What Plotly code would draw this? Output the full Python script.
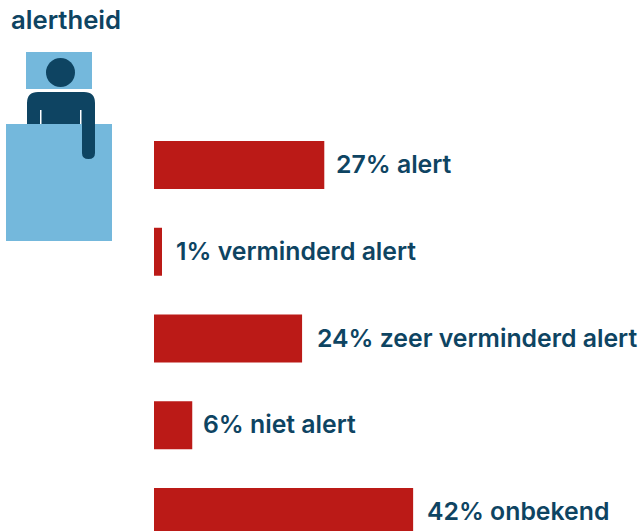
import plotly.graph_objects as go

categories = ["alert", "verminderd alert", "zeer verminderd alert", "niet alert", "onbekend"]
percent_labels = ["27%", "1%", "24%", "6%", "42%"]
bar_lengths = [27.6, 1.3, 24.0, 6.2, 42.0]

W, H = 640, 531
BLUE = "#0e4462"
LIGHT = "#74b8dc"
RED = "#bb1a17"
FONT = "Inter"
PX_PER_UNIT = 6.17
BAR_X0 = 154
ROW0, ROW_STEP = 165, 86.75
LABEL_GAPS = {"alert": 10, "verminderd alert": 12, "zeer verminderd alert": 13,
              "niet alert": 9, "onbekend": 12}

def X(p):
    return p / W

def Y(p):
    return 1 - p / H

fig = go.Figure(go.Bar(
    x=bar_lengths, y=categories, orientation="h",
    marker=dict(color=RED, line=dict(width=0)), hoverinfo="skip",
))

for cat, pct, v in zip(categories, percent_labels, bar_lengths):
    fig.add_annotation(x=v, y=cat, xref="x", yref="y", text=f"{pct} {cat}", showarrow=False,
                       xanchor="left", yanchor="middle", xshift=LABEL_GAPS[cat], yshift=1,
                       font=dict(family=FONT, size=24.8, color=BLUE, weight=600))

fig.add_annotation(x=X(11), y=Y(20), xref="paper", yref="paper", text="alertheid", showarrow=False,
                   xanchor="left", yanchor="middle", xshift=-2,
                   font=dict(family=FONT, size=25.7, color=BLUE, weight=600))

def rect(x0, y0, x1, y1, color):
    return dict(type="rect", xref="paper", yref="paper", x0=X(x0), x1=X(x1), y0=Y(y0), y1=Y(y1),
                fillcolor=color, line=dict(width=0), layer="below")

def path(d, color):
    return dict(type="path", xref="paper", yref="paper", path=d, fillcolor=color, line=dict(width=0), layer="below")

def P(x, y):
    return f"{X(x):.5f},{Y(y):.5f}"

body = ("M " + P(27, 124) + " L " + P(27, 103) + " Q " + P(27, 92) + " " + P(38, 92)
        + " L " + P(84, 92) + " Q " + P(95, 92) + " " + P(95, 103)
        + " L " + P(95, 153) + " Q " + P(95, 159) + " " + P(88.5, 159)
        + " Q " + P(82, 159) + " " + P(82, 153)
        + " L " + P(82, 124) + " Z")

fig.update_layout(
    width=W, height=H, margin=dict(l=0, r=0, t=0, b=0),
    paper_bgcolor="white", plot_bgcolor="white", showlegend=False, bargap=0.447,
    xaxis=dict(range=[-BAR_X0 / PX_PER_UNIT, (W - BAR_X0) / PX_PER_UNIT], visible=False, fixedrange=True),
    yaxis=dict(type="category", categoryorder="array", categoryarray=categories,
               range=[(H - ROW0) / ROW_STEP, -ROW0 / ROW_STEP], visible=False, fixedrange=True),
    shapes=[
        rect(26, 52, 92, 89, LIGHT),
        dict(type="circle", xref="paper", yref="paper", x0=X(46), x1=X(75), y0=Y(58), y1=Y(87),
             fillcolor=BLUE, line=dict(width=0), layer="below"),
        rect(6, 124, 112, 241, LIGHT),
        path(body, BLUE),
        rect(40, 110, 41.5, 124, "white"),
        rect(80, 110, 81.5, 124, "white"),
    ],
)
fig.write_html("out.html", config=dict(displayModeBar=False),
               post_script="document.body.style.margin='0';document.body.style.overflow='hidden';")
